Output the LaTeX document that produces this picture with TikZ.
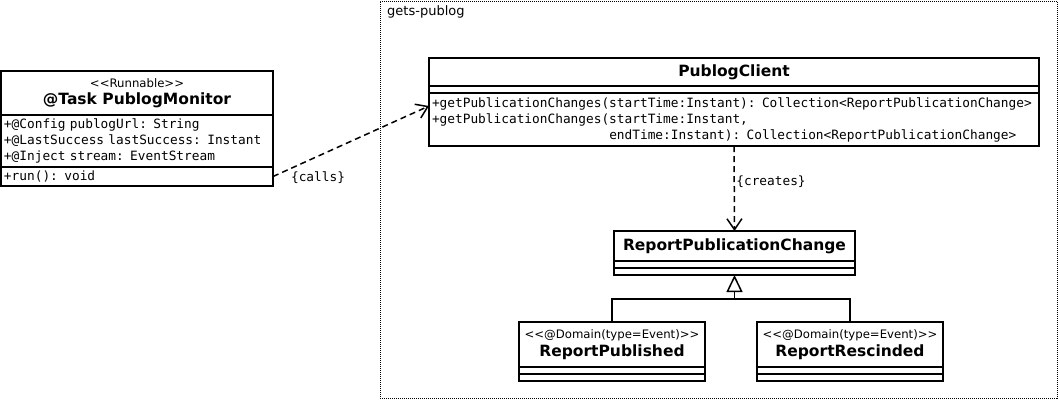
\documentclass[tikz,border=0pt]{standalone}
\usepackage{fontspec}
\setmainfont{DejaVu Sans}
\setmonofont[WordSpace={1,0,0}]{DejaVu Sans Mono}
\usepackage{tikz}
\usetikzlibrary{arrows.meta, positioning}
\tikzstyle{classhead} = [rectangle, draw=black, line width=1.5pt, outer sep=0pt, inner sep=0pt, align=center, fill=white]
\tikzstyle{classpart} = [rectangle, draw=black, line width=1.5pt, outer sep=0pt, inner xsep=3pt, inner ysep=0pt, align=left, fill=white]
\tikzstyle{package} = [rectangle, draw=black, line width=1pt, dash pattern=on 1pt off 1pt, outer sep=0pt, inner sep=0pt]
\tikzstyle{depend} = [line width=1.5pt, dash pattern=on 6pt off 4pt, -{Straight Barb[length=11pt, width=15pt, line width=1.5pt]}]
\tikzstyle{inherit} = [line width=1.5pt, -{Triangle[open, length=17pt, width=16pt, line width=1.5pt]}]
\newcommand{\stereo}[1]{{\fontsize{11.7pt}{13pt}\selectfont <{}<#1>{}>}}
\newcommand{\cname}[1]{{\fontsize{15.5pt}{18pt}\selectfont\bfseries #1}}
\newcommand{\membfont}{\ttfamily\fontsize{12.8pt}{16pt}\selectfont}

\begin{document}
\begin{tikzpicture}[x=1pt, y=-1pt]
\useasboundingbox (0,0) rectangle (1059,402);
\fill[white] (0,0) rectangle (1059,402);

\node (pkg) [package, anchor=north west, minimum width=677pt, minimum height=397pt] at (380,1) {};
\node (pkgname) [anchor=north west, inner sep=0pt, font=\fontsize{13pt}{15pt}\selectfont] at ([xshift=7pt, yshift=-4pt]pkg.north west) {gets-publog};

\node (monhead) [classhead, anchor=north west, minimum width=272pt, minimum height=44pt] at (1,71) {\stereo{Runnable}\\[5pt]\cname{@Task PublogMonitor}};
\node (monattr) [classpart, below=0pt of monhead, text width=266pt, minimum height=52pt, font=\membfont] {+@Config publogUrl: String\\+@LastSuccess lastSuccess: Instant\\+@Inject stream: EventStream};
\node (monops) [classpart, below=0pt of monattr, text width=266pt, minimum height=19pt, font=\membfont] {+run(): void};

\node (clienthead) [classhead, anchor=north west, minimum width=610pt, minimum height=28pt] at (429,58) {\cname{PublogClient}};
\node (clientattr) [classpart, below=0pt of clienthead, minimum width=610pt, minimum height=7pt] {};
\node (clientops) [classpart, below=0pt of clientattr, text width=604pt, minimum height=53pt, font=\membfont] {+getPublicationChanges(startTime:Instant): Collection<ReportPublicationChange>\\+getPublicationChanges(startTime:Instant,\\\phantom{+getPublicationChanges(}endTime:Instant): Collection<ReportPublicationChange>};

\node (changehead) [classhead, anchor=north west, minimum width=241pt, minimum height=30pt] at (614,231) {\cname{ReportPublicationChange}};
\node (changeattr) [classpart, below=0pt of changehead, minimum width=241pt, minimum height=7pt] {};
\node (changeops) [classpart, below=0pt of changeattr, minimum width=241pt, minimum height=7pt] {};

\node (pubhead) [classhead, anchor=north west, minimum width=186pt, minimum height=45pt] at (519,322) {\stereo{@Domain(type=Event)}\\[3pt]\cname{ReportPublished}};
\node (pubattr) [classpart, below=0pt of pubhead, minimum width=186pt, minimum height=7pt] {};
\node (pubops) [classpart, below=0pt of pubattr, minimum width=186pt, minimum height=7pt] {};

\node (reshead) [classhead, anchor=north west, minimum width=186pt, minimum height=45pt] at (757,322) {\stereo{@Domain(type=Event)}\\[3pt]\cname{ReportRescinded}};
\node (resattr) [classpart, below=0pt of reshead, minimum width=186pt, minimum height=7pt] {};
\node (resops) [classpart, below=0pt of resattr, minimum width=186pt, minimum height=7pt] {};

\coordinate (callin) at ([yshift=-13pt]clientops.north west);
\coordinate (join) at ([yshift=-24pt]changeops.south);

\draw [depend] (monops.east) -- (callin) node[at start, anchor=west, xshift=14pt, yshift=-1pt, font=\membfont] {\{calls\}};
\draw [depend] (clientops.south) -- (changehead.north) node[midway, anchor=west, xshift=-2pt, yshift=7pt, font=\membfont] {\{creates\}};
\draw [line width=1.5pt] (pubhead.north) |- (join) -| (reshead.north);
\draw [inherit] (join) -- (changeops.south);
\end{tikzpicture}
\end{document}
